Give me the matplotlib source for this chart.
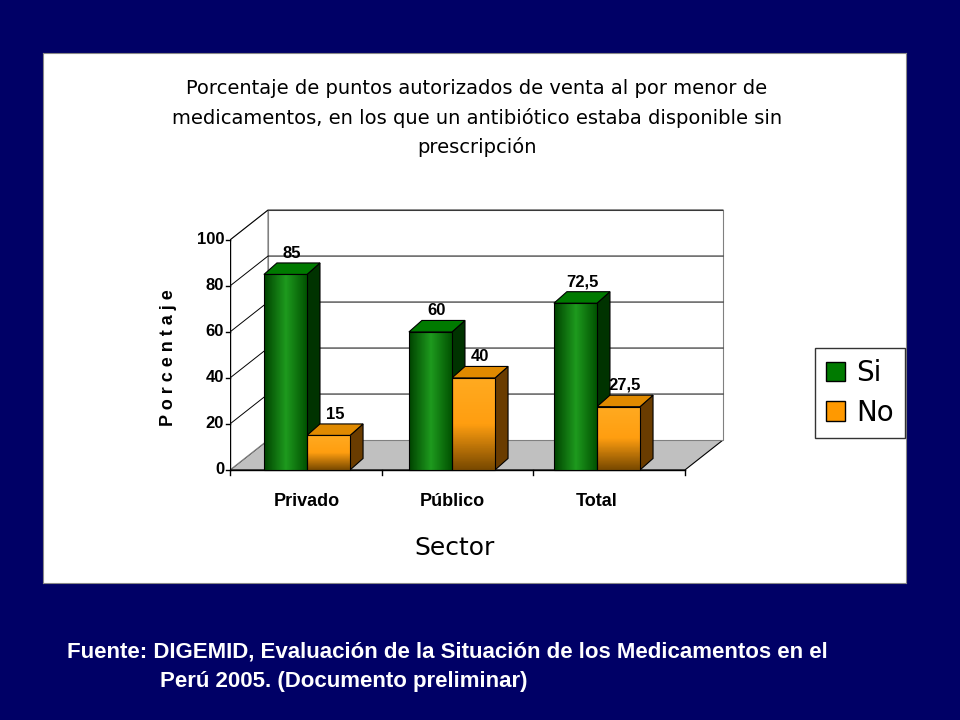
import matplotlib
matplotlib.use("Agg")
import matplotlib.pyplot as plt
import numpy as np
from matplotlib.patches import Polygon, Rectangle, Patch

categories = ["Privado", "Público", "Total"]
si_values = [85, 60, 72.5]
no_values = [15, 40, 27.5]
si_labels = ["85", "60", "72,5"]
no_labels = ["15", "40", "27,5"]
yticks = [0, 20, 40, 60, 80, 100]

NAVY = "#000066"
fig = plt.figure(figsize=(9.6, 7.2), dpi=100, facecolor=NAVY)
bg = fig.add_axes([43/960, 1-583/720, 863/960, 530/720], zorder=-5)
bg.set_xticks([]); bg.set_yticks([])
bg.set_facecolor("white")
for s in bg.spines.values():
    s.set_color("#888888")

ax = fig.add_axes([230/960, 1-475/720, 495/960, 270/720], zorder=2)
ax.set_xlim(-0.531, 2.883)
ax.set_ylim(-2.2, 115.2)
ax.axis("off")

PX = 145.0
DX, DY = 38/PX, 13.0       # wall depth
bdx, bdy = 13/PX, 5.0      # bar depth
x0 = -0.531
xr = (685-307)/PX
W = 0.297

ax.add_patch(Polygon([(x0, 0), (x0+DX, DY), (xr+DX, DY), (xr, 0)], closed=True,
                     facecolor="#c0c0c0", edgecolor="black", lw=0.8, zorder=1))
ax.add_patch(Polygon([(x0, 0), (x0, 100), (x0+DX, 100+DY), (x0+DX, DY)], closed=True,
                     facecolor="white", edgecolor="#808080", lw=0.8, zorder=1))
ax.add_patch(Rectangle((x0+DX, DY), xr-x0, 100, facecolor="white", edgecolor="#808080", lw=0.8, zorder=1))
for t in yticks[1:]:
    ax.plot([x0, x0+DX, xr+DX], [t, t+DY, t+DY], color="black", lw=0.7, zorder=1.5)
ax.plot([x0, x0], [0, 100], color="black", lw=1, zorder=2)
ax.plot([x0, xr], [0, 0], color="black", lw=1, zorder=2)
for t in yticks:
    ax.plot([x0-0.025, x0], [t, t], color="black", lw=1, zorder=2, clip_on=False)
    ax.text(x0-0.04, t, str(t), ha="right", va="center", fontsize=12, fontweight="bold",
            fontfamily="Liberation Sans")
for i in range(4):
    xx = x0 + i*(xr-x0)/3
    ax.plot([xx, xx], [0, -2], color="black", lw=1, zorder=2, clip_on=False)

def bar3d(xl, h, kind, lbl):
    if kind == "si":
        cmap = matplotlib.colors.LinearSegmentedColormap.from_list("g", ["#004400", "#1e9a1e", "#005000"])
        grad = np.linspace(0, 1, 50)[None, :]
        side, top = "#003300", "#007a00"
    else:
        cmap = matplotlib.colors.LinearSegmentedColormap.from_list("o", ["#7a4a00", "#ff9e10", "#ffaa20"])
        grad = np.linspace(0, 1, 50)[:, None]
        side, top = "#6a3c00", "#e08a00"
    ax.add_patch(Polygon([(xl+W, 0), (xl+W+bdx, bdy), (xl+W+bdx, h+bdy), (xl+W, h)],
                         facecolor=side, edgecolor="black", lw=0.8, zorder=3))
    ax.add_patch(Polygon([(xl, h), (xl+bdx, h+bdy), (xl+W+bdx, h+bdy), (xl+W, h)],
                         facecolor=top, edgecolor="black", lw=0.8, zorder=3))
    rect = Rectangle((xl, 0), W, h, facecolor="none", edgecolor="black", lw=0.8, zorder=4)
    ax.add_patch(rect)
    im = ax.imshow(grad, cmap=cmap, extent=[xl, xl+W, 0, h], aspect="auto", origin="lower", zorder=3.5)
    im.set_clip_path(rect)
    ax.text(xl+W/2+bdx/2, h+bdy+1, lbl, ha="center", va="bottom", fontsize=12, fontweight="bold",
            fontfamily="Liberation Sans")

for i, c in enumerate(categories):
    bar3d(i-W, si_values[i], "si", si_labels[i])
    bar3d(i, no_values[i], "no", no_labels[i])
    ax.text(i, -10, c, ha="center", va="top", fontsize=13, fontweight="bold", fontfamily="Liberation Sans")
ax.set_xlim(-0.531, 2.883)
ax.set_ylim(-2.2, 115.2)

fig.text(0.176, 1-358/720, "P o r c e n t a j e", rotation=90, ha="center", va="center",
         fontsize=13, fontweight="bold", fontfamily="Liberation Sans")
fig.text(455/960, 1-548/720, "Sector", ha="center", va="center", fontsize=18, fontfamily="DejaVu Sans")
fig.text(477/960, 1-118/720,
         "Porcentaje de puntos autorizados de venta al por menor de\nmedicamentos, en los que un antibiótico estaba disponible sin\nprescripción",
         ha="center", va="center", fontsize=14, linespacing=1.6, fontfamily="DejaVu Sans")

handles = [Patch(facecolor="#007a00", edgecolor="black"), Patch(facecolor="#ff9900", edgecolor="black")]
leg = fig.legend(handles, ["Si", "No"], loc="center", bbox_to_anchor=(860/960, 1-393/720),
                 fontsize=20, frameon=True, fancybox=False, edgecolor="black", handlelength=0.7,
                 handleheight=0.7, handletextpad=0.4, borderpad=0.4, labelspacing=0.4)
leg.get_frame().set_linewidth(1)

fig.text(67/960, 1-652/720, "Fuente: DIGEMID, Evaluación de la Situación de los Medicamentos en el",
         color="white", fontsize=16, fontweight="bold", va="center", fontfamily="Liberation Sans")
fig.text(160/960, 1-682/720, "Perú 2005. (Documento preliminar)",
         color="white", fontsize=16, fontweight="bold", va="center", fontfamily="Liberation Sans")

fig.savefig("out.png", dpi=100, facecolor=NAVY)
